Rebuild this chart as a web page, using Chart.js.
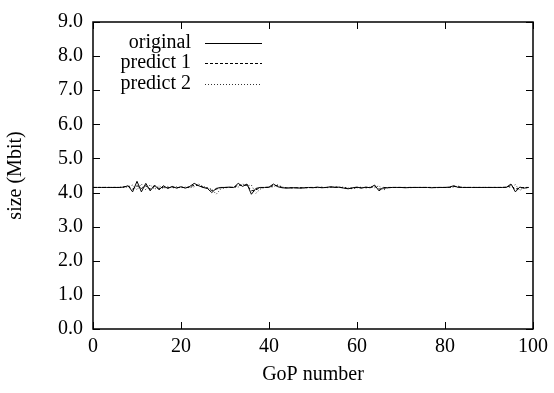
<!DOCTYPE html>
<html>
<head>
<meta charset="utf-8">
<script src="https://cdn.jsdelivr.net/npm/chart.js@4/dist/chart.umd.min.js"></script>
<style>
  html, body { margin: 0; padding: 0; background: #fff; }
  #wrap { width: 554px; height: 393px; }
</style>
</head>
<body>
<div id="wrap"><canvas id="chart" width="554" height="393"></canvas></div>
<script>
// GoP sizes in Mbit (GoP 0..99)
const original = [
  4.15, 4.15, 4.15, 4.15, 4.15, 4.15, 4.15, 4.16, 4.20, 4.02,
  4.33, 4.02, 4.27, 4.05, 4.22, 4.08, 4.20, 4.12, 4.18, 4.13,
  4.17, 4.13, 4.18, 4.27, 4.20, 4.15, 4.12, 4.00, 4.12, 4.15,
  4.15, 4.16, 4.15, 4.27, 4.18, 4.25, 3.95, 4.12, 4.15, 4.15,
  4.16, 4.25, 4.17, 4.14, 4.13, 4.14, 4.14, 4.13, 4.14, 4.15,
  4.14, 4.16, 4.14, 4.15, 4.17, 4.15, 4.16, 4.13, 4.11, 4.14,
  4.16, 4.13, 4.16, 4.14, 4.22, 4.05, 4.15, 4.14, 4.15, 4.15,
  4.15, 4.14, 4.15, 4.15, 4.15, 4.15, 4.15, 4.14, 4.15, 4.15,
  4.15, 4.16, 4.20, 4.15, 4.15, 4.15, 4.15, 4.15, 4.15, 4.15,
  4.15, 4.15, 4.15, 4.15, 4.16, 4.25, 4.02, 4.16, 4.13, 4.15
];
const predict1 = [
  4.15, 4.15, 4.15, 4.15, 4.15, 4.15, 4.15, 4.17, 4.18, 4.10,
  4.20, 4.12, 4.20, 4.10, 4.18, 4.12, 4.16, 4.14, 4.16, 4.14,
  4.16, 4.14, 4.16, 4.22, 4.21, 4.16, 4.13, 4.06, 4.10, 4.14,
  4.15, 4.15, 4.15, 4.22, 4.21, 4.22, 4.05, 4.08, 4.14, 4.15,
  4.15, 4.21, 4.20, 4.15, 4.14, 4.14, 4.14, 4.14, 4.14, 4.15,
  4.15, 4.15, 4.15, 4.15, 4.16, 4.16, 4.15, 4.14, 4.12, 4.13,
  4.15, 4.14, 4.15, 4.15, 4.19, 4.10, 4.12, 4.15, 4.15, 4.15,
  4.15, 4.15, 4.15, 4.15, 4.15, 4.15, 4.15, 4.15, 4.15, 4.15,
  4.15, 4.15, 4.18, 4.17, 4.15, 4.15, 4.15, 4.15, 4.15, 4.15,
  4.15, 4.15, 4.15, 4.15, 4.15, 4.21, 4.10, 4.13, 4.15, 4.15
];
const predict2 = [
  4.15, 4.15, 4.15, 4.15, 4.15, 4.15, 4.15, 4.15, 4.17, 4.22,
  4.08, 4.25, 4.08, 4.23, 4.09, 4.20, 4.11, 4.18, 4.13, 4.17,
  4.14, 4.16, 4.14, 4.17, 4.25, 4.18, 4.14, 4.10, 3.95, 4.10,
  4.14, 4.15, 4.15, 4.16, 4.25, 4.20, 4.22, 3.98, 4.10, 4.15,
  4.15, 4.17, 4.23, 4.16, 4.14, 4.13, 4.14, 4.14, 4.13, 4.14,
  4.15, 4.14, 4.16, 4.14, 4.15, 4.17, 4.15, 4.16, 4.13, 4.11,
  4.14, 4.16, 4.13, 4.16, 4.14, 4.20, 4.07, 4.14, 4.15, 4.15,
  4.15, 4.15, 4.14, 4.15, 4.15, 4.15, 4.15, 4.15, 4.14, 4.15,
  4.15, 4.15, 4.16, 4.19, 4.15, 4.15, 4.15, 4.15, 4.15, 4.15,
  4.15, 4.15, 4.15, 4.15, 4.15, 4.16, 4.23, 4.06, 4.15, 4.13
];
const xTicks = [0, 20, 40, 60, 80, 100];
const yTicks = [0, 1, 2, 3, 4, 5, 6, 7, 8, 9];

const FONT = "'Liberation Serif', 'Times New Roman', serif";
const FS = 20;

function toPoints(arr) {
  return arr.map((v, i) => ({ x: i, y: v }));
}

// gnuplot-like frame: box around plot area plus inward ticks on all sides
const framePlugin = {
  id: 'frame',
  afterDatasetsDraw(chart) {
    const { ctx, chartArea: a, scales } = chart;
    ctx.save();
    ctx.strokeStyle = '#000';
    ctx.lineWidth = 1;
    ctx.beginPath();
    xTicks.forEach(v => {
      const px = Math.round(scales.x.getPixelForValue(v)) + 0.5;
      ctx.moveTo(px, a.bottom); ctx.lineTo(px, a.bottom - 7);
      ctx.moveTo(px, a.top); ctx.lineTo(px, a.top + 7);
    });
    yTicks.forEach(v => {
      const py = Math.round(scales.y.getPixelForValue(v)) + 0.5;
      ctx.moveTo(a.left, py); ctx.lineTo(a.left + 7, py);
      ctx.moveTo(a.right, py); ctx.lineTo(a.right - 7, py);
    });
    ctx.stroke();
    ctx.lineWidth = 1.5;
    ctx.strokeRect(a.left, a.top, a.right - a.left, a.bottom - a.top);
    ctx.restore();
  },
  afterDraw(chart) {
    // key: label right-aligned, line sample to its right
    const { ctx } = chart;
    ctx.save();
    ctx.font = FS + 'px ' + FONT;
    ctx.fillStyle = '#000';
    ctx.textAlign = 'right';
    ctx.textBaseline = 'middle';
    const rowsY = [43, 63, 84];
    chart.data.datasets.forEach((ds, i) => {
      const y = rowsY[i];
      ctx.fillText(ds.label, 191, y);
      ctx.strokeStyle = ds.borderColor;
      ctx.lineWidth = ds.borderWidth;
      ctx.setLineDash(ds.borderDash || []);
      ctx.beginPath();
      ctx.moveTo(205, y + 0.5);
      ctx.lineTo(262, y + 0.5);
      ctx.stroke();
    });
    ctx.restore();
  }
};

new Chart(document.getElementById('chart'), {
  type: 'line',
  data: {
    datasets: [
      { label: 'original', data: toPoints(original), borderColor: '#000', borderWidth: 1, pointRadius: 0, tension: 0 },
      { label: 'predict 1', data: toPoints(predict1), borderColor: '#000', borderWidth: 1, borderDash: [3, 2], pointRadius: 0, tension: 0 },
      { label: 'predict 2', data: toPoints(predict2), borderColor: '#333', borderWidth: 1, borderDash: [1, 2], pointRadius: 0, tension: 0 }
    ]
  },
  options: {
    responsive: false,
    animation: false,
    layout: { padding: { top: 17, right: 18, bottom: 0, left: 4 } },
    plugins: { legend: { display: false }, tooltip: { enabled: false } },
    scales: {
      x: {
        type: 'linear',
        min: 0, max: 100,
        afterBuildTicks: s => { s.ticks = xTicks.map(v => ({ value: v })); },
        afterFit: s => { s.height = 64; },
        grid: { display: false, drawTicks: false },
        border: { display: false },
        ticks: { color: '#000', font: { family: FONT, size: FS }, padding: 6, maxRotation: 0 },
        title: { display: true, text: 'GoP number', color: '#000', font: { family: FONT, size: FS }, padding: { top: 2, bottom: 6 } }
      },
      y: {
        min: 0, max: 9,
        afterBuildTicks: s => { s.ticks = yTicks.map(v => ({ value: v })); },
        afterFit: s => { s.width = 89; },
        grid: { display: false, drawTicks: false },
        border: { display: false },
        ticks: { color: '#000', font: { family: FONT, size: FS }, padding: 10, callback: v => v.toFixed(1) },
        title: { display: true, text: 'size (Mbit)', color: '#000', font: { family: FONT, size: FS }, padding: { top: 0, bottom: 0 } }
      }
    }
  },
  plugins: [framePlugin]
});
</script>
</body>
</html>
